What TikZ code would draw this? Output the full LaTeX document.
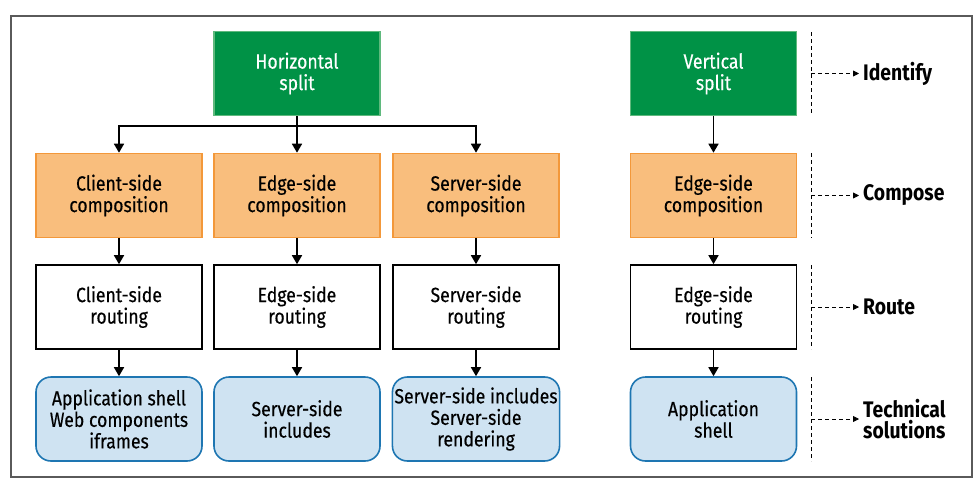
\documentclass[tikz,border=0pt]{standalone}
\usepackage{fontspec}
\setmainfont{Fira Sans}[FakeStretch=0.86,UprightFeatures={FakeBold=0.35}]
\usetikzlibrary{arrows.meta,calc}
\definecolor{grfill}{RGB}{0,146,70}
\definecolor{grline}{RGB}{95,185,125}
\definecolor{orfill}{RGB}{249,190,125}
\definecolor{orline}{RGB}{243,152,58}
\definecolor{blfill}{RGB}{207,227,242}
\definecolor{blline}{RGB}{30,118,178}
\definecolor{frame}{RGB}{90,90,90}
\begin{document}
\begin{tikzpicture}[x=1pt,y=-1pt,
  box/.style={minimum width=166pt,minimum height=84pt,inner sep=2pt,align=center,
    font=\fontsize{20.5}{21.5}\selectfont,line width=1.6pt},
  greenbox/.style={box,fill=grfill,draw=grline,text=white},
  orangebox/.style={box,fill=orfill,draw=orline},
  routebox/.style={box,fill=white,draw=black},
  techbox/.style={box,fill=blfill,draw=blline,rounded corners=15pt},
  arr/.style={line width=1.6pt,-{Triangle[width=10pt,length=9pt]}},
  darr/.style={dashed,line width=0.8pt,dash pattern=on 4pt off 3pt,-{Triangle[width=6pt,length=6pt]}},
  vdash/.style={line width=0.8pt,dash pattern=on 4pt off 3pt},
  lab/.style={anchor=west,align=left,inner sep=0pt,font=\bfseries\fontsize{22.5}{21}\selectfont}]
\useasboundingbox (0,0) rectangle (977,488);
\draw[frame,line width=1.5pt] (11,16) rectangle (972,477);

% row 1
\node[greenbox] (H) at (297,73.5) {Horizontal\\split};
\node[greenbox] (V) at (713.5,73.5) {Vertical\\split};
% row 2
\node[orangebox] (cc) at (119,195.5) {Client-side\\composition};
\node[orangebox] (ec) at (297,195.5) {Edge-side\\composition};
\node[orangebox] (sc) at (476,195.5) {Server-side\\composition};
\node[orangebox] (vc) at (713.5,195.5) {Edge-side\\composition};
% row 3
\node[routebox] (cr) at (119,307) {Client-side\\routing};
\node[routebox] (er) at (297,307) {Edge-side\\routing};
\node[routebox] (sr) at (476,307) {Server-side\\routing};
\node[routebox] (vr) at (713.5,307) {Edge-side\\routing};
% row 4
\node[techbox] (ct) at (119,419) {Application shell\\Web components\\iframes};
\node[techbox] (et) at (297,419) {Server-side\\includes};
\node[techbox] (st) at (476,419) {Server-side includes\\Server-side\\rendering};
\node[techbox] (vt) at (713.5,419) {Application\\shell};

% connectors
\draw[arr] (H.south) |- ($(cc.north)+(0,-27)$) -- (cc.north);
\draw[arr] (H.south) |- ($(sc.north)+(0,-27)$) -- (sc.north);
\draw[arr] (H.south) -- (ec.north);
\draw[arr] (V.south) -- (vc.north);
\foreach \a/\b in {cc/cr,ec/er,sc/sr,vc/vr,cr/ct,er/et,sr/st,vr/vt}
  \draw[arr] (\a.south) -- (\b.north);

% legend
\node[lab] (l1) at (863,73.5) {Identify};
\node[lab] (l2) at (863,195.5) {Compose};
\node[lab] (l3) at (863,307) {Route};
\node[lab] (l4) at (863,419) {Technical\\solutions};
\foreach \n/\y/\t/\b in {1/73.5/32/115,2/195.5/153/238,3/307/265/349,4/419/377/461}{
  \coordinate (d\n) at (811,\y);
  \draw[vdash] (811,\t) -- (811,\b);
  \draw[darr] (d\n) -- ($(l\n.west)+(-4,0)$);
}
\end{tikzpicture}
\end{document}
